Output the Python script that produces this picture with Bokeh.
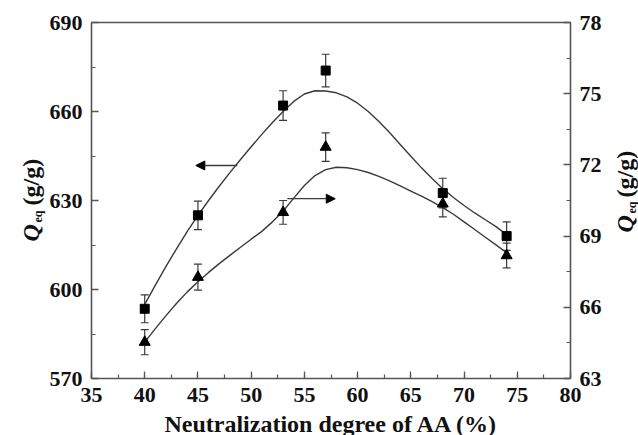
import math
from bokeh.plotting import figure
from bokeh.models import (Range1d, LinearAxis, Arrow, NormalHead, Label,
                          SingleIntervalTicker, FixedTicker)
from bokeh.embed import file_html
from bokeh.resources import INLINE

# ---- data ----
nd = [40, 45, 53, 57, 68, 74]                        # neutralization degree of AA (%)
q_left = [593.5, 625.0, 662.0, 673.8, 632.5, 618.0]  # squares, left axis Q_eq (g/g)
q_left_err = [4.7, 4.8, 5.0, 5.5, 5.0, 4.8]
q_right = [64.53, 67.27, 70.0, 72.75, 70.36, 68.18]  # triangles, right axis Q_eq (g/g)
q_right_err = [0.53, 0.55, 0.5, 0.6, 0.55, 0.52]

fit_x = [40, 41, 42, 43, 44, 45, 46, 47, 48, 49, 50, 51, 52, 53, 54, 55, 56, 57,
         58, 59, 60, 61, 62, 63, 64, 65, 66, 67, 68, 69, 70, 71, 72, 73, 74]
fit_left_y = [595.0, 601.5, 607.8, 613.8, 619.6, 625.0, 630.0, 634.8, 639.4, 643.8,
              648.1, 652.3, 656.3, 660.0, 663.4, 665.9, 667.0, 666.9, 666.3, 664.9,
              662.8, 660.0, 656.6, 652.9, 648.9, 644.9, 641.0, 637.4, 634.0, 631.0,
              628.3, 625.8, 623.5, 621.2, 618.5]
fit_right_y = [64.53, 65.10, 65.65, 66.17, 66.65, 67.08, 67.47, 67.84, 68.19, 68.53,
               68.87, 69.20, 69.60, 70.05, 70.60, 71.13, 71.55, 71.80, 71.90, 71.88,
               71.80, 71.68, 71.52, 71.33, 71.12, 70.90, 70.68, 70.45, 70.20, 69.92,
               69.60, 69.28, 68.95, 68.63, 68.30]

x_ticks = [35, 40, 45, 50, 55, 60, 65, 70, 75, 80]
left_ticks = [570, 600, 630, 660, 690]
right_ticks = [63, 66, 69, 72, 75, 78]

# arrows (start x, end x, y on left axis)
arrow_left = (48.7, 44.8, 641.8)
arrow_right = (53.4, 57.9, 630.6)

# ---- geometry ----
W, H = 638, 435
FL, FR, FT, FB = 91, 570, 22, 378   # chart box in pixels
X0, X1 = x_ticks[0], x_ticks[-1]
YL0, YL1 = left_ticks[0], left_ticks[-1]
YR0, YR1 = right_ticks[0], right_ticks[-1]
kx = (FR - FL) / (X1 - X0)
kl = (FB - FT) / (YL1 - YL0)
kr = (FB - FT) / (YR1 - YR0)

FONT = "Liberation Serif"
AX = "#555555"
LINE = "#3a3a3a"
TXT = "#111111"

p = figure(width=W, height=H,
           x_range=Range1d(X0 - FL / kx, X1 + (W - FR) / kx),
           y_range=Range1d(YL0 - (H - FB) / kl, YL1 + FT / kl),
           output_backend="svg", toolbar_location=None,
           min_border=0, min_border_left=0, min_border_right=0,
           min_border_top=0, min_border_bottom=0)
p.extra_y_ranges = {"right": Range1d(YR0 - (H - FB) / kr, YR1 + FT / kr)}
p.xgrid.visible = False
p.ygrid.visible = False
p.outline_line_color = None
p.background_fill_color = "white"
p.border_fill_color = "white"

xaxis = p.xaxis[0]
yaxis = p.yaxis[0]
xaxis.fixed_location = YL0
xaxis.bounds = (X0, X1)
yaxis.fixed_location = X0
yaxis.bounds = (YL0, YL1)
right_axis = LinearAxis(y_range_name="right", fixed_location=X1, bounds=(YR0, YR1))
p.add_layout(right_axis, "right")
top_axis = LinearAxis(fixed_location=YL1, bounds=(X0, X1), ticker=FixedTicker(ticks=[]),
                      major_label_text_color=None)
p.add_layout(top_axis, "above")

xaxis.ticker = SingleIntervalTicker(interval=5, num_minor_ticks=2)
yaxis.ticker = SingleIntervalTicker(interval=30, num_minor_ticks=2)
right_axis.ticker = SingleIntervalTicker(interval=3, num_minor_ticks=2)

for ax in [xaxis, yaxis, right_axis, top_axis]:
    ax.axis_line_color = AX
    ax.axis_line_width = 1.6
    ax.major_tick_line_color = AX
    ax.minor_tick_line_color = AX
    ax.major_tick_line_width = 1.3
    ax.minor_tick_line_width = 1.2
    ax.major_tick_in = 7
    ax.major_tick_out = 0
    ax.minor_tick_in = 4
    ax.minor_tick_out = 0
    ax.major_label_text_font = FONT
    ax.major_label_text_font_style = "bold"
    ax.major_label_text_font_size = "22px"
    ax.major_label_standoff = 9
for ax in [xaxis, yaxis, right_axis]:
    ax.major_label_text_color = TXT
top_axis.minor_tick_line_color = None
top_axis.major_tick_line_color = None

# fitted curves
p.line(fit_x, fit_left_y, line_color=LINE, line_width=1.4)
p.line(fit_x, fit_right_y, line_color=LINE, line_width=1.4, y_range_name="right")

# error bars
lo_l = [v - e for v, e in zip(q_left, q_left_err)]
hi_l = [v + e for v, e in zip(q_left, q_left_err)]
lo_r = [v - e for v, e in zip(q_right, q_right_err)]
hi_r = [v + e for v, e in zip(q_right, q_right_err)]
p.segment(nd, lo_l, nd, hi_l, line_color=LINE, line_width=1.2)
p.scatter(nd + nd, lo_l + hi_l, marker="dash", size=8, line_color=LINE, line_width=1.2)
p.segment(nd, lo_r, nd, hi_r, line_color=LINE, line_width=1.2, y_range_name="right")
p.scatter(nd + nd, lo_r + hi_r, marker="dash", size=8, line_color=LINE, line_width=1.2,
          y_range_name="right")

# markers
p.scatter(nd, q_left, marker="square", size=9, fill_color="black", line_color="black")
p.scatter(nd, q_right, marker="triangle", size=11, fill_color="black", line_color="black",
          y_range_name="right")

# arrows pointing to the axis each series belongs to
for xs, xe, y in [arrow_left, arrow_right]:
    p.add_layout(Arrow(x_start=xs, y_start=y, x_end=xe, y_end=y, line_color=LINE, line_width=1.3,
                       end=NormalHead(size=9, fill_color="black", line_color="black")))

# titles (screen units: origin bottom-left of the canvas)
def lab(text, x, y, size, style="bold", angle=0.0, align="left", baseline="alphabetic"):
    p.add_layout(Label(x=x, y=H - y, x_units="screen", y_units="screen", text=text,
                       text_font=FONT, text_font_style=style, text_font_size=size,
                       text_color=TXT, angle=angle, text_align=align,
                       text_baseline=baseline))

lab("Neutralization degree of AA (%)", 331, 423, "24px", align="center", baseline="middle")

up = math.pi / 2
lab("Q", 30, 241, "24px", style="bold italic", angle=up)
lab("eq", 37, 222, "12px", angle=up)
lab("(g/g)", 30, 205, "24px", angle=up)

lab("Q", 624, 232, "24px", style="bold italic", angle=up)
lab("eq", 631, 213, "12px", angle=up)
lab("(g/g)", 624, 197, "24px", angle=up)

open("out.html", "w").write(file_html(p, INLINE))
